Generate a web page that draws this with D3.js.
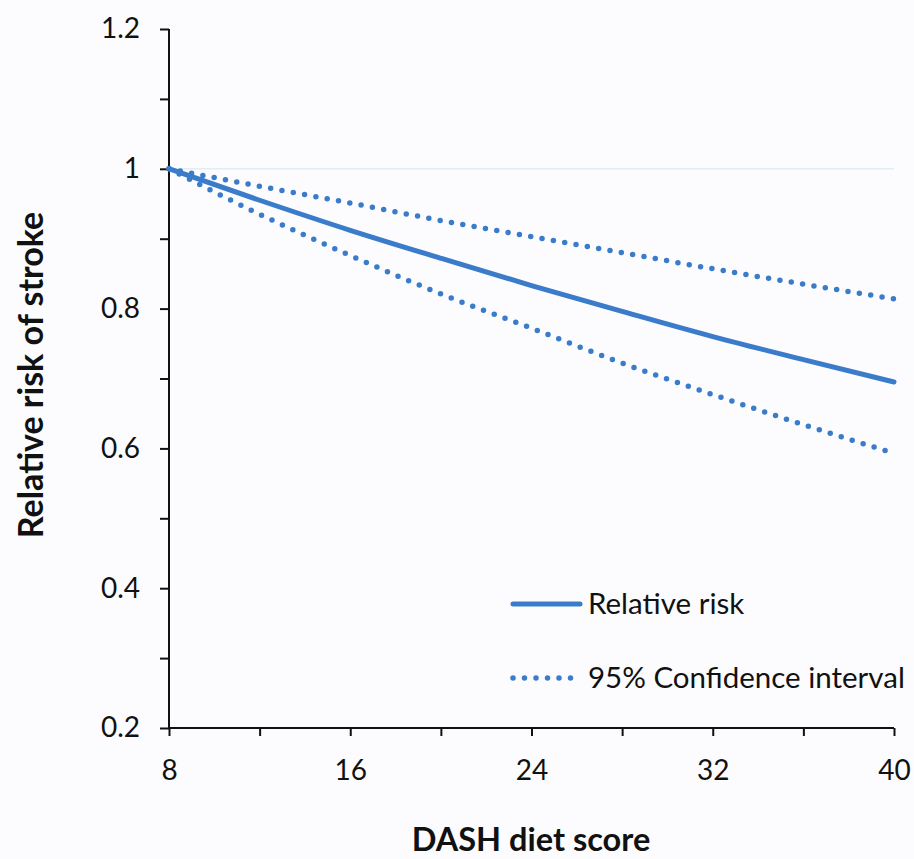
<!DOCTYPE html>
<html>
<head>
<meta charset="utf-8">
<script src="https://cdn.jsdelivr.net/npm/d3@7"></script>
<style>
  body { margin: 0; background: #fcfcfe; }
  svg { display: block; }
  text { font-family: Lato, "Open Sans", sans-serif; fill: #111; }
</style>
</head>
<body>
<svg id="chart" width="914" height="859"></svg>
<script>
// values, at each 4 points of the DASH score
var scores = [8, 12, 16, 20, 24, 28, 32, 36, 40];
var relRisk = [1, 0.955, 0.912, 0.872, 0.833, 0.796, 0.760, 0.727, 0.695];
var upperCI = [1, 0.975, 0.951, 0.926, 0.903, 0.880, 0.857, 0.835, 0.814];
var lowerCI = [1, 0.935, 0.876, 0.821, 0.772, 0.722, 0.677, 0.634, 0.593];
var xTicks = [8, 16, 24, 32, 40];
var yTicks = [0.2, 0.4, 0.6, 0.8, 1, 1.2];

var svg = d3.select('#chart');

var x = d3.scaleLinear().domain([8, 40]).range([169, 894]);
var y = d3.scaleLinear().domain([0.2, 1.2]).range([728, 29]);

// faint reference line at 1
svg.append('line')
    .attr('x1', x(8)).attr('x2', x(40))
    .attr('y1', y(1)).attr('y2', y(1))
    .attr('stroke', '#dfeef2').attr('stroke-width', 1.5);

// y axis: ticks every 0.1, labels every 0.2
var yAxis = d3.axisLeft(y)
    .tickValues(d3.range(0.2, 1.201, 0.1))
    .tickSize(9)
    .tickFormat(function (d) {
        var hit = yTicks.some(function (t) { return Math.abs(t - d) < 1e-6; });
        return hit ? d3.format('~g')(+d.toFixed(1)) : '';
    });

var gy = svg.append('g')
    .attr('transform', 'translate(' + x(8) + ',0)')
    .call(yAxis);

// x axis: ticks every 4, labels every 8
var xAxis = d3.axisBottom(x)
    .tickValues(d3.range(8, 40.01, 4))
    .tickSize(8)
    .tickFormat(function (d) { return xTicks.indexOf(d) >= 0 ? d : ''; });

var gx = svg.append('g')
    .attr('transform', 'translate(0,' + y(0.2) + ')')
    .call(xAxis);

[gx, gy].forEach(function (g) {
    g.select('.domain').attr('stroke', '#111').attr('stroke-width', 2);
    g.selectAll('.tick line').attr('stroke', '#111').attr('stroke-width', 2);
    g.selectAll('.tick text')
        .style('font-family', 'Lato, "Open Sans", sans-serif')
        .style('font-size', '28px')
        .attr('fill', '#111');
});
gy.select('.domain').attr('d', 'M0,' + y(1.2) + 'V' + y(0.2));
gx.select('.domain').attr('d', 'M' + x(8) + ',0H' + x(40));
gy.selectAll('.tick text').attr('x', -29);
gx.selectAll('.tick text').attr('y', 32);

var line = d3.line()
    .curve(d3.curveMonotoneX)
    .x(function (d) { return x(d[0]); })
    .y(function (d) { return y(d[1]); });

function pairs(vals) {
    return scores.map(function (s, i) { return [s, vals[i]]; });
}

var blue = '#3a7cc9';

svg.append('path')
    .datum(pairs(upperCI))
    .attr('d', line)
    .attr('fill', 'none')
    .attr('stroke', blue)
    .attr('stroke-width', 5.5)
    .attr('stroke-linecap', 'round')
    .attr('stroke-dasharray', '0,11.5');

svg.append('path')
    .datum(pairs(lowerCI))
    .attr('d', line)
    .attr('fill', 'none')
    .attr('stroke', blue)
    .attr('stroke-width', 5.5)
    .attr('stroke-linecap', 'round')
    .attr('stroke-dasharray', '0,11.5');

svg.append('path')
    .datum(pairs(relRisk))
    .attr('d', line)
    .attr('fill', 'none')
    .attr('stroke', blue)
    .attr('stroke-width', 5)
    .attr('stroke-linecap', 'round');

// legend
var legend = svg.append('g');
legend.append('line')
    .attr('x1', 513).attr('x2', 580).attr('y1', 604).attr('y2', 604)
    .attr('stroke', blue).attr('stroke-width', 5).attr('stroke-linecap', 'round');
legend.append('text')
    .attr('x', 588).attr('y', 614)
    .style('font-size', '29.5px')
    .text('Relative risk');
legend.append('line')
    .attr('x1', 513).attr('x2', 573).attr('y1', 678).attr('y2', 678)
    .attr('stroke', blue).attr('stroke-width', 5.5)
    .attr('stroke-linecap', 'round').attr('stroke-dasharray', '0,11.5');
legend.append('text')
    .attr('x', 588).attr('y', 688)
    .style('font-size', '29.5px')
    .text('95% Confidence interval');

// axis titles
svg.append('text')
    .attr('x', 531).attr('y', 851)
    .attr('text-anchor', 'middle')
    .style('font-size', '32.5px').style('font-weight', 'bold')
    .text('DASH diet score');

svg.append('text')
    .attr('transform', 'translate(43,375) rotate(-90)')
    .attr('text-anchor', 'middle')
    .style('font-size', '34px').style('font-weight', 'bold')
    .text('Relative risk of stroke');
</script>
</body>
</html>
